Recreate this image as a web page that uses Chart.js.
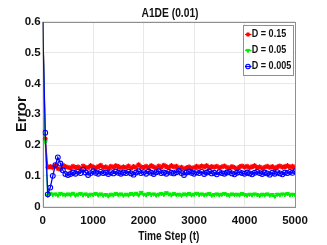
<!DOCTYPE html>
<html><head><meta charset="utf-8">
<script src="https://cdn.jsdelivr.net/npm/chart.js@4"></script>
<style>html,body{margin:0;padding:0;background:#fff}#c{display:block}</style>
</head><body>
<canvas id="c" width="327" height="245"></canvas>
<script>
const timeSteps = [0,50,100,150,200,250,300,350,400,450,500,550,600,650,700,750,800,850,900,950,
1000,1050,1100,1150,1200,1250,1300,1350,1400,1450,1500,1550,1600,1650,1700,1750,1800,1850,1900,1950,
2000,2050,2100,2150,2200,2250,2300,2350,2400,2450,2500,2550,2600,2650,2700,2750,2800,2850,2900,2950,
3000,3050,3100,3150,3200,3250,3300,3350,3400,3450,3500,3550,3600,3650,3700,3750,3800,3850,3900,3950,
4000,4050,4100,4150,4200,4250,4300,4350,4400,4450,4500,4550,4600,4650,4700,4750,4800,4850,4900,4950,5000];
const errD015 = [0.60,0.22,0.128,0.130,0.127,0.133,0.124,0.121,0.134,0.130,
0.128,0.125,0.131,0.127,0.129,0.123,0.132,0.128,0.126,0.133,
0.129,0.125,0.130,0.134,0.127,0.129,0.124,0.131,0.128,0.133,
0.130,0.126,0.129,0.127,0.132,0.125,0.130,0.128,0.136,0.129,
0.127,0.131,0.126,0.133,0.129,0.125,0.132,0.128,0.134,0.130,
0.127,0.133,0.129,0.131,0.125,0.128,0.123,0.126,0.129,0.124,
0.127,0.131,0.128,0.132,0.129,0.133,0.127,0.130,0.128,0.131,
0.126,0.129,0.132,0.128,0.125,0.130,0.127,0.123,0.129,0.132,
0.128,0.131,0.126,0.130,0.133,0.127,0.129,0.124,0.128,0.131,
0.127,0.130,0.125,0.129,0.132,0.128,0.130,0.133,0.129,0.131,0.128];
const errD005 = [0.60,0.21,0.036,0.043,0.039,0.041,0.037,0.042,0.040,0.038,
0.041,0.039,0.043,0.037,0.040,0.042,0.038,0.041,0.036,0.040,
0.039,0.042,0.038,0.041,0.037,0.039,0.035,0.040,0.038,0.042,
0.039,0.041,0.037,0.040,0.038,0.042,0.039,0.043,0.038,0.046,
0.040,0.038,0.042,0.039,0.041,0.037,0.040,0.042,0.039,0.045,
0.041,0.038,0.042,0.039,0.040,0.037,0.041,0.039,0.042,0.038,
0.040,0.043,0.039,0.041,0.038,0.040,0.042,0.037,0.039,0.041,
0.038,0.040,0.042,0.039,0.037,0.041,0.039,0.040,0.038,0.042,
0.039,0.037,0.040,0.038,0.041,0.039,0.036,0.040,0.038,0.041,
0.037,0.039,0.034,0.040,0.038,0.041,0.039,0.042,0.038,0.040,0.039];
const errD0005 = [0.60,0.24,0.040,0.062,0.100,0.135,0.160,0.140,0.118,0.106,
0.103,0.106,0.111,0.107,0.113,0.109,0.120,0.111,0.103,0.109,
0.115,0.110,0.107,0.113,0.109,0.111,0.106,0.112,0.108,0.114,
0.110,0.107,0.111,0.109,0.113,0.108,0.104,0.111,0.115,0.109,
0.112,0.107,0.114,0.110,0.106,0.112,0.115,0.109,0.111,0.107,
0.113,0.110,0.108,0.112,0.116,0.109,0.103,0.111,0.114,0.110,
0.107,0.112,0.109,0.113,0.106,0.111,0.114,0.108,0.110,0.105,
0.112,0.109,0.107,0.111,0.113,0.108,0.105,0.110,0.112,0.109,
0.107,0.111,0.108,0.105,0.110,0.113,0.109,0.106,0.111,0.108,
0.104,0.110,0.107,0.112,0.108,0.105,0.111,0.109,0.113,0.110,0.115];
const seriesLabels = ['D = 0.15','D = 0.05','D = 0.005'];
const xTicks = [0,1000,2000,3000,4000,5000];
const yTicks = [0,0.1,0.2,0.3,0.4,0.5,0.6];
const chartTitle = 'A1DE (0.01)';
const xTitle = 'Time Step (t)';
const yTitle = 'Error';

const FONT = "'Liberation Sans',Arial,Helvetica,sans-serif";
const pts = arr => arr.map((v,i)=>({x:timeSteps[i], y:v}));

function narrowText(ctx, text, x, y, size, sx, align){
  ctx.save();
  ctx.font = 'bold '+size+'px '+FONT;
  ctx.textBaseline = 'middle';
  ctx.textAlign = align || 'center';
  ctx.translate(x, y);
  ctx.scale(sx, 1);
  ctx.fillStyle = '#111';
  ctx.fillText(text, 0, 0);
  ctx.restore();
}

const decor = {
  id:'decor',
  beforeDatasetsDraw(chart){
    const {ctx, chartArea:a} = chart;
    ctx.save();
    ctx.strokeStyle = '#8f8f8f';
    ctx.lineWidth = 1;
    ctx.strokeRect(Math.round(a.left)+0.5, Math.round(a.top)+0.5, Math.round(a.right-a.left), Math.round(a.bottom-a.top));
    ctx.restore();
  },
  afterDraw(chart){
    const {ctx, chartArea:a} = chart;
    narrowText(ctx, chartTitle, 170, 13, 13, 0.79, 'center');
    narrowText(ctx, xTitle, (a.left+a.right)/2, 236, 13, 0.78, 'center');
    ctx.save();
    const bx=243.5, by=25.5, bw=50, bh=50;
    ctx.fillStyle='#fff'; ctx.fillRect(bx,by,bw,bh);
    ctx.strokeStyle='#8f8f8f'; ctx.lineWidth=1; ctx.strokeRect(bx,by,bw,bh);
    [0,1,2].forEach(i=>{
      const ds = chart.data.datasets[i];
      const y = 34.5 + i*16;
      ctx.strokeStyle = ds.borderColor; ctx.lineWidth = 1.2;
      ctx.beginPath(); ctx.moveTo(bx+1.5,y); ctx.lineTo(bx+8,y); ctx.stroke();
      ctx.fillStyle = ds.pointBackgroundColor; ctx.strokeStyle = ds.borderColor; ctx.lineWidth = ds.pointBorderWidth;
      Chart.helpers.drawPoint(ctx, {pointStyle:ds.pointStyle, rotation:ds.pointRotation||0, radius:2.2, borderWidth:ds.pointBorderWidth}, bx+4.5, y);
      narrowText(ctx, ds.label, bx+8.3, y, 10.5, 0.86, 'left');
    });
    ctx.restore();
  }
};
const rad = r => (c => c.dataIndex === 0 ? 0 : r);
new Chart(document.getElementById('c'), {
  type:'line',
  data:{datasets:[
    {label:seriesLabels[0], data:pts(errD015), order:3, borderColor:'#ff0000', backgroundColor:'#ff0000', borderWidth:1.3,
     pointStyle:'star', pointRadius:rad(2.6), pointBorderWidth:1.2, pointBorderColor:'#ff0000', pointBackgroundColor:'#ff0000', tension:0},
    {label:seriesLabels[1], data:pts(errD005), order:2, borderColor:'#00ee00', backgroundColor:'#00ee00', borderWidth:1.3,
     pointStyle:'triangle', pointRotation:180, pointRadius:rad(2.3), pointBorderWidth:1, pointBorderColor:'#00ee00', pointBackgroundColor:'#00ee00', tension:0},
    {label:seriesLabels[2], data:pts(errD0005), order:1, borderColor:'#0000ff', backgroundColor:'rgba(0,0,0,0)', borderWidth:1.3,
     pointStyle:'circle', pointRadius:rad(2.4), pointBorderWidth:1.1, pointBorderColor:'#0000ff', pointBackgroundColor:'rgba(0,0,0,0)', tension:0}
  ]},
  options:{
    responsive:false, animation:false,
    layout:{padding:{left:0,right:32,top:21.7,bottom:0}},
    plugins:{ legend:{display:false}, tooltip:{enabled:false}, title:{display:false} },
    scales:{
      x:{type:'linear', min:0, max:5000,
        afterBuildTicks(s){ s.ticks = xTicks.map(v=>({value:v})); },
        afterFit(s){ s.height = 38.3; },
        grid:{color:'#e8e8e8', drawTicks:false, lineWidth:1},
        border:{display:false},
        ticks:{color:'#111', padding:7, maxRotation:0, font:{family:FONT, size:11.5, weight:'bold'}, callback:v=>String(v)},
        title:{display:false}
      },
      y:{min:0, max:0.6,
        afterBuildTicks(s){ s.ticks = yTicks.map(v=>({value:v})); },
        afterFit(s){ s.width = 42.7; },
        grid:{color:'#e8e8e8', drawTicks:false, lineWidth:1},
        border:{display:false},
        ticks:{color:'#111', padding:2, font:{family:FONT, size:11.5, weight:'bold'}, callback:v=>String(Math.round(v*10)/10)},
        title:{display:true, text:yTitle, color:'#111', padding:{top:13,bottom:0}, font:{family:FONT, size:14.5, weight:'bold'}}
      }
    }
  },
  plugins:[decor]
});
</script>
</body></html>
